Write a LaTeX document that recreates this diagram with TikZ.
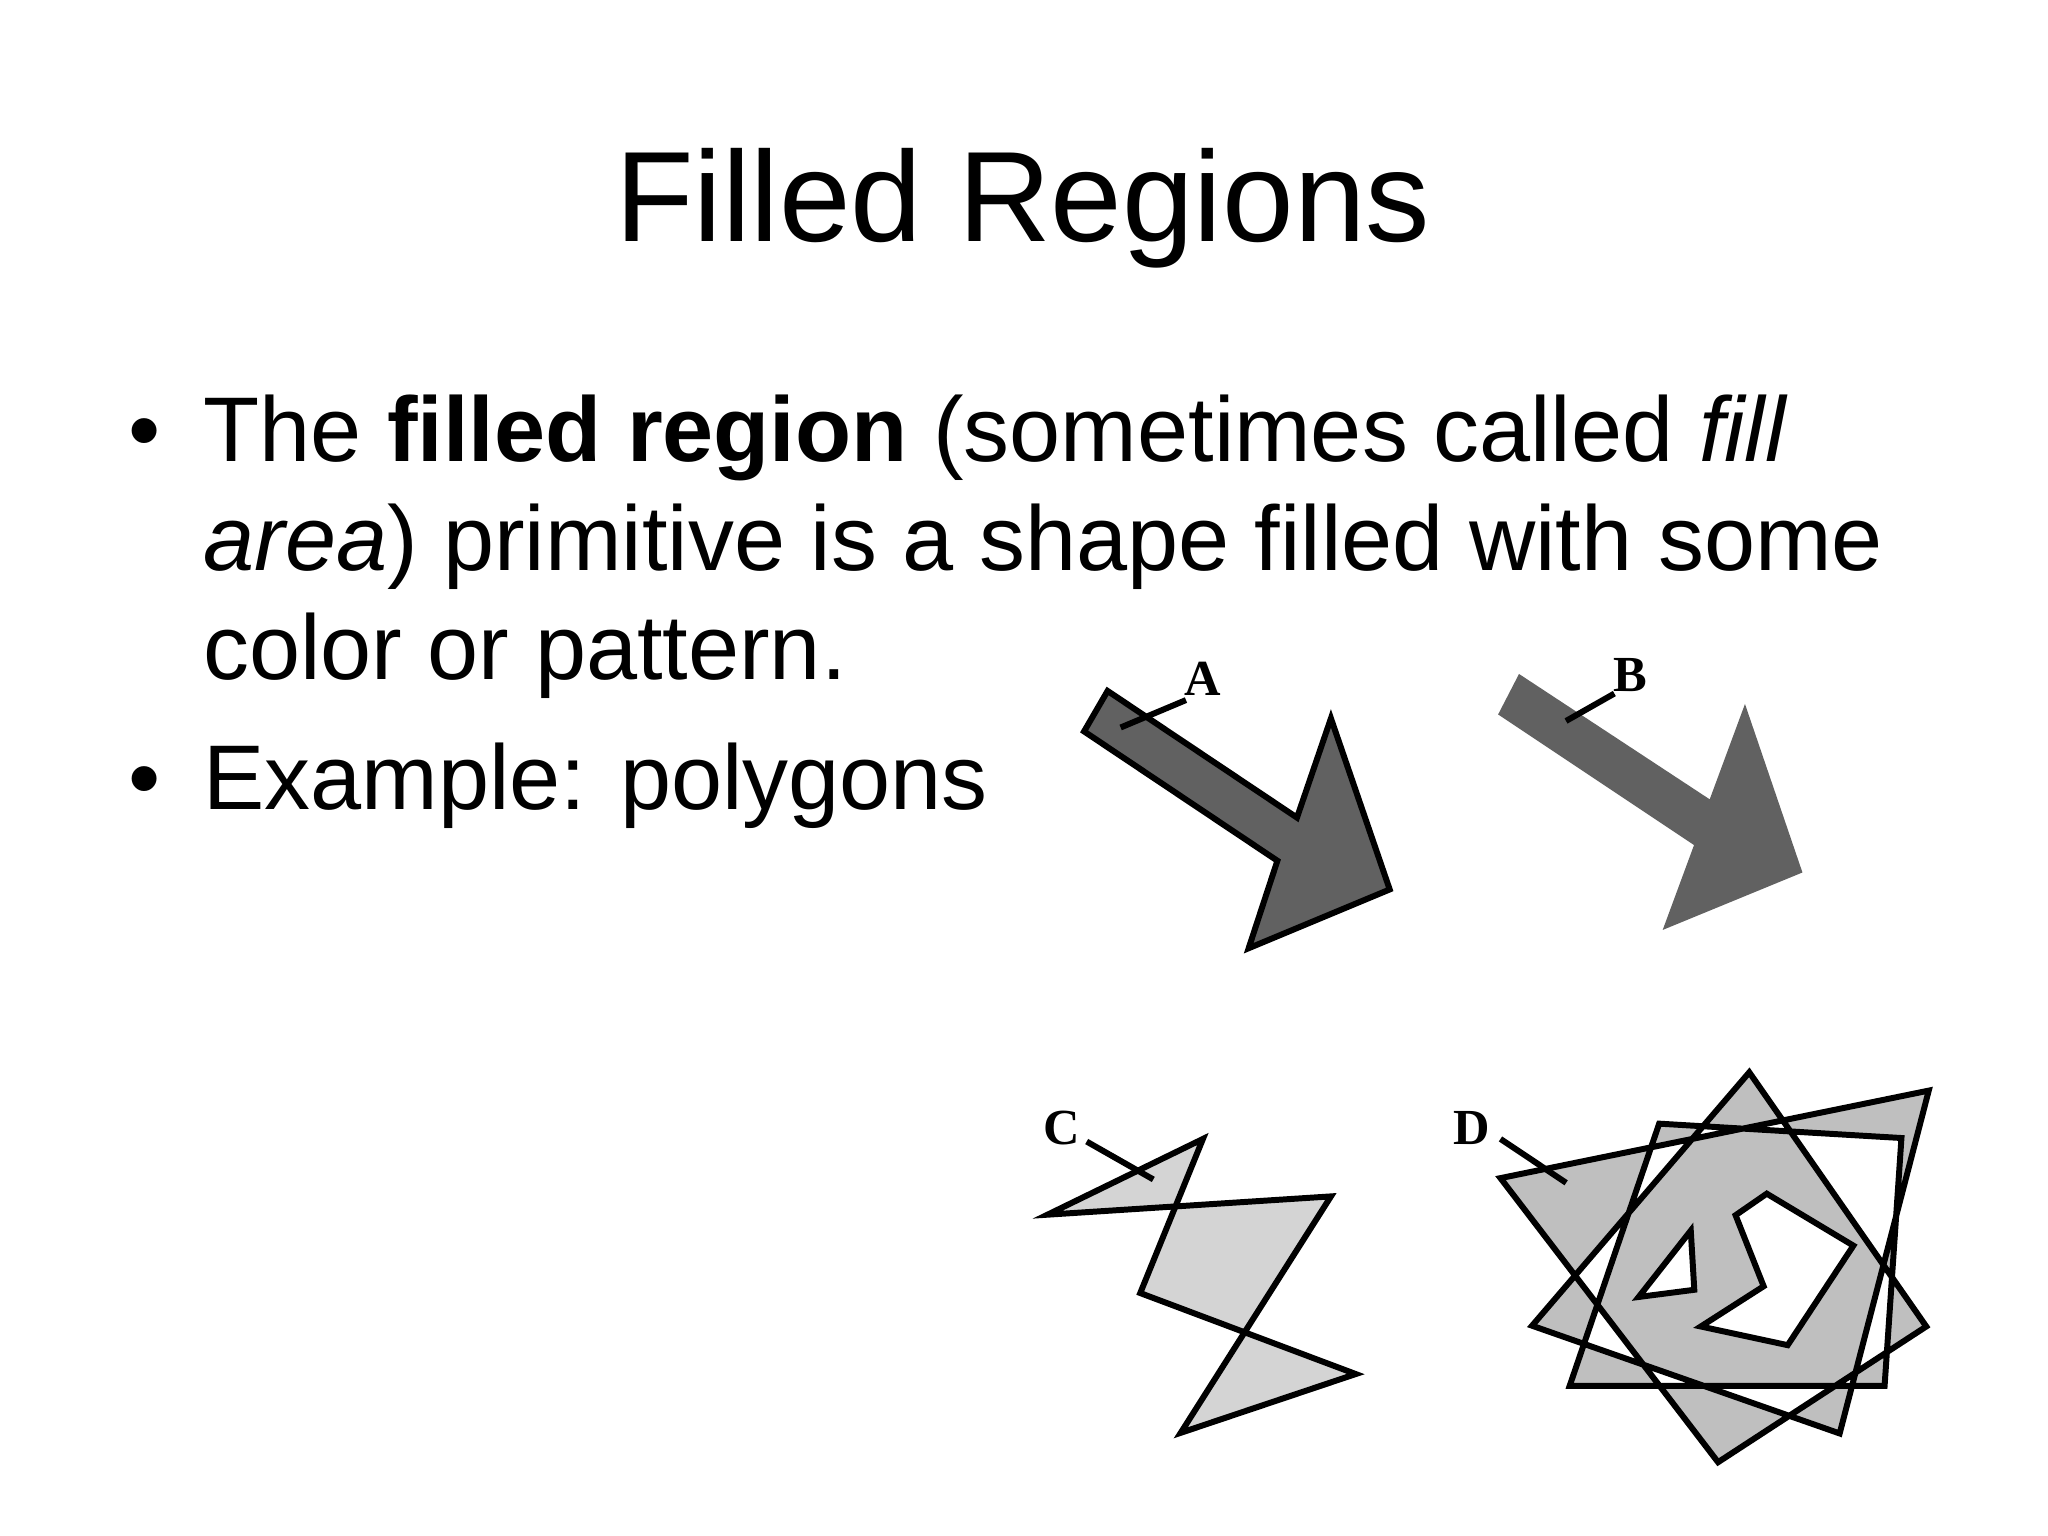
\documentclass[tikz,border=0pt]{standalone}
\usepackage{fontspec}
\setmainfont{Liberation Sans}
\newfontfamily\lblfont{Liberation Serif}
\begin{document}
\begin{tikzpicture}[x=0.01cm,y=-0.01cm,
  body/.style={anchor=base west,inner sep=0,font=\fontsize{20pt}{24pt}\selectfont},
  lbl/.style={inner sep=0,font=\lblfont\bfseries\fontsize{11pt}{13pt}\selectfont},
  leader/.style={line width=1.3pt},
  shp/.style={draw=black,line width=1.3pt,line join=miter}]
\useasboundingbox (0,0) rectangle (1568,1176);
\node[inner sep=0,anchor=base,font=\fontsize{28pt}{32pt}\selectfont] (title) at (783,185) {Filled Regions};
\node[body] (b1) at (98,353) {•};
\node[body] (l1) at (155,353) {The \textbf{filled region} (sometimes called \textit{fill}};
\node[body] (l2) at (155,437) {\textit{area}) primitive is a shape filled with some};
\node[body] (l3) at (155,520) {color or pattern.};
\node[body] (b2) at (98,620) {•};
\node[body] (l4) at (155,620) {Example: polygons};
% A
\draw[shp,fill=black!62] (848,529) -- (830,560) -- (978,659) -- (956,726) -- (1064,681) -- (1019,550) -- (993,626) -- cycle;
\node[lbl] (la) at (921,520) {A};
\coordinate (ea) at (858,557);
\draw[leader] (ea) -- (908,536);
% B
\fill[black!62] (1163,516) -- (1147,547) -- (1297,647) -- (1273,712) -- (1380,668) -- (1336,539) -- (1309,612) -- cycle;
\node[lbl] (lb) at (1248,517) {B};
\coordinate (eb) at (1199,552);
\draw[leader] (eb) -- (1236,531);
% C
\draw[shp,fill=black!17,even odd rule] (802,930) -- (921,872) -- (873,990) -- (1038,1052) -- (904,1097) -- (1019,916) -- cycle;
\node[lbl] (lc) at (813,864) {C};
\coordinate (ec) at (883,903);
\draw[leader] (832,874) -- (ec);
% D
\draw[shp,fill=black!25,even odd rule]
  (1148.8,902.0) -- (1476.7,835.0) -- (1408.5,1097.5) -- (1173.0,1015.0) -- (1339.3,821.0) -- (1474.8,1015.6) -- (1315.4,1119.5) -- cycle
  (1270.3,860.3) -- (1455.8,871.3) -- (1442.9,1061.0) -- (1201.8,1061.0) -- cycle
  (1328.8,930.4) -- (1352.7,913.9) -- (1419.0,953.7) -- (1368.7,1029.9) -- (1302.2,1015.6) -- (1350.3,984.8) -- cycle
  (1294.5,942.2) -- (1297.2,987.5) -- (1254.6,993.0) -- cycle;
\node[lbl] (ld) at (1127,864) {D};
\coordinate (ed) at (1199.1,905.6);
\draw[leader] (1148.8,872) -- (ed);
\end{tikzpicture}
\end{document}
